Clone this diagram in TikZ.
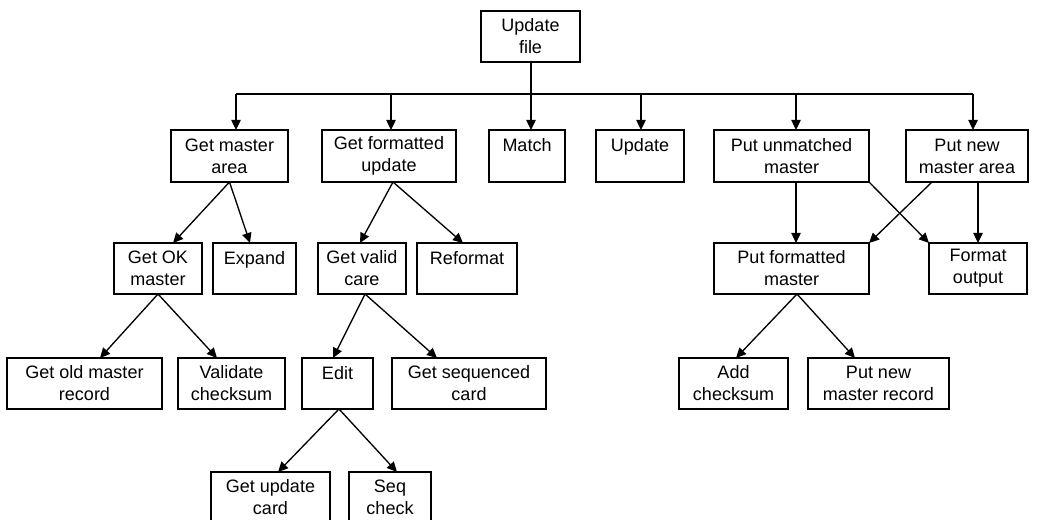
\documentclass[tikz,border=0pt]{standalone}
\usepackage{fontspec}
\setmainfont{Liberation Sans}
\usetikzlibrary{arrows.meta,calc}
\newcommand\mkbox[6]{\node[box, minimum width={(#4-#2)*0.75pt}, minimum height={(#5-#3)*0.75pt}] (#1) at ({(#2+#4)/2},{(#3+#5)/2}) {#6};}
\tikzset{
  box/.style={draw, line width=1.1pt, inner sep=0pt, outer sep=0pt, align=center,
    font=\fontsize{13.5pt}{16.5pt}\selectfont},
  arr/.style={-{Triangle[length=7.5pt,width=7pt]}, line width=1pt},
  ln/.style={line width=1pt}
}
\begin{document}
\begin{tikzpicture}[x=0.75pt,y=-0.75pt]
\useasboundingbox (0,0) rectangle (1041,520);
% level 0
\mkbox{ufile}{481}{11}{580}{62}{Update\\file}
% level 1
\mkbox{gma}{171}{130}{288}{182}{Get master\\area}
\mkbox{gfu}{322}{130}{456}{182}{Get formatted\\update}
\mkbox{match}{489}{130}{565}{182}{Match\\\mbox{}}
\mkbox{update}{596}{130}{684}{182}{Update\\\mbox{}}
\mkbox{puu}{714}{130}{869}{182}{Put unmatched\\master}
\mkbox{pnma}{906}{130}{1028}{182}{Put new\\master area}
% level 2
\mkbox{gok}{114}{243}{202}{294}{Get OK\\master}
\mkbox{expand}{213}{243}{296}{294}{Expand\\\mbox{}}
\mkbox{gvc}{318}{243}{406}{294}{Get valid\\care}
\mkbox{reformat}{417}{243}{517}{294}{Reformat\\\mbox{}}
\mkbox{pfm}{714}{243}{869}{294}{Put formatted\\master}
\mkbox{fo}{929}{243}{1027}{294}{Format\\output}
% level 3
\mkbox{gomr}{7}{358}{162}{409}{Get old master\\record}
\mkbox{validate}{178}{358}{285}{409}{Validate\\checksum}
\mkbox{edit}{302}{358}{373}{409}{Edit\\\mbox{}}
\mkbox{gsc}{392}{358}{546}{409}{Get sequenced\\card}
\mkbox{addc}{679}{358}{788}{409}{Add\\checksum}
\mkbox{pnmr}{808}{358}{949}{409}{Put new\\master record}
% level 4
\mkbox{guc}{211}{472}{330}{523}{Get update\\card}
\mkbox{seq}{349}{472}{431}{523}{Seq\\check}
% bus
\coordinate (busL) at (236,94);
\coordinate (busR) at (973,94);
\coordinate (tmatch) at ($(match.north)+(4,0)$);
\coordinate (tgma) at ($(gma.north)+(6.5,0)$);
\coordinate (tgfu) at ($(gfu.north)+(2,0)$);
\coordinate (tupd) at ($(update.north)+(1,0)$);
\coordinate (tpuu) at ($(puu.north)+(4.5,0)$);
\coordinate (tpnma) at ($(pnma.north)+(6,0)$);
\draw[ln] (busL) -- (busR);
\draw[ln] (tmatch |- ufile.south) -- (tmatch |- busL);
\draw[arr] (tmatch |- busL) -- (tmatch);
\draw[arr] (busL) -- (tgma);
\draw[arr] (tgfu |- busL) -- (tgfu);
\draw[arr] (tupd |- busL) -- (tupd);
\draw[arr] (tpuu |- busL) -- (tpuu);
\draw[arr] (busR) -- (tpnma);
% left subtree
\draw[arr] (gma.south) -- ($(gok.north)+(15,0)$);
\draw[arr] (gma.south) -- ($(expand.north)+(-4.5,0)$);
\draw[arr] ($(gfu.south)+(4,0)$) -- ($(gvc.north)+(-2,0)$);
\draw[arr] ($(gfu.south)+(4,0)$) -- ($(reformat.north)+(-4,0)$);
\draw[arr] (gok.south) -- ($(gomr.north)+(15.5,0)$);
\draw[arr] (gok.south) -- ($(validate.north)+(-14.5,0)$);
\draw[arr] ($(gvc.south)+(3,0)$) -- ($(edit.north)+(-4.5,0)$);
\draw[arr] ($(gvc.south)+(3,0)$) -- ($(gsc.north)+(-32,0)$);
\draw[arr] ($(edit.south)+(1.5,0)$) -- ($(guc.north)+(7.5,0)$);
\draw[arr] ($(edit.south)+(1.5,0)$) -- ($(seq.north)+(7,0)$);
% right subtree
\draw[arr] ($(puu.south)+(4.5,0)$) -- ($(pfm.north)+(4.5,0)$);
\draw[arr] (puu.south east) -- (fo.north west);
\draw[arr] ($(pnma.south)+(-35,0)$) -- (pfm.north east);
\draw[arr] ($(pnma.south)+(11,0)$) -- (fo.north);
\draw[arr] ($(pfm.south)+(5.5,0)$) -- ($(addc.north)+(2.5,0)$);
\draw[arr] ($(pfm.south)+(5.5,0)$) -- ($(pnmr.north)+(-23.5,0)$);
\end{tikzpicture}
\end{document}
